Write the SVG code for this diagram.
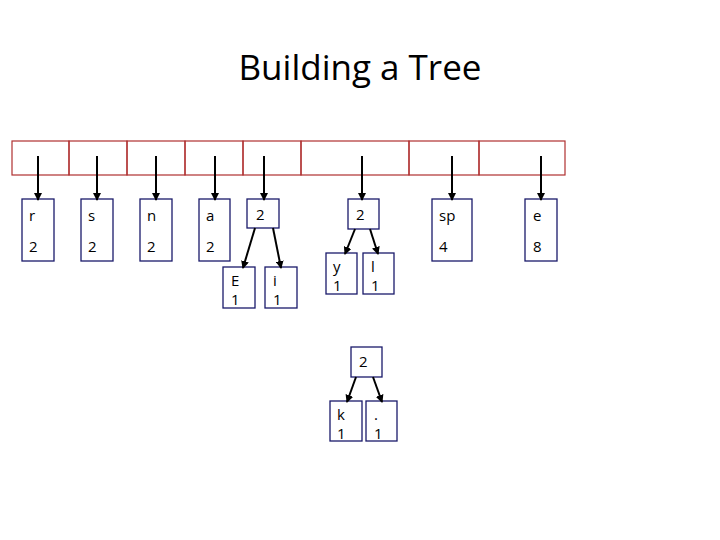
<svg xmlns="http://www.w3.org/2000/svg" width="720" height="540" viewBox="0 0 720 540">
<style>
.cell{fill:none;stroke:#b03030;stroke-width:1.2}
.box{fill:#fff;stroke:#1a1a6a;stroke-width:1.3}
.t{font-family:"Open Sans","Liberation Sans",sans-serif;font-size:15px;fill:#000}
.title{font-family:"Open Sans","Liberation Sans",sans-serif;font-size:35px;fill:#000;text-anchor:middle}
.c{stroke:#000;stroke-width:2;marker-end:url(#ah)}
</style>
<defs><marker id="ah" markerWidth="8" markerHeight="8" refX="7" refY="4" orient="auto" markerUnits="userSpaceOnUse"><path d="M0,0 L8,4 L0,8 z" fill="#000"/></marker></defs>
<rect width="720" height="540" fill="#fff"/>
<text class="title" x="360" y="80">Building a Tree</text>
<g id="array">
<rect class="cell" x="12" y="141" width="57" height="34"/>
<rect class="cell" x="69" y="141" width="58" height="34"/>
<rect class="cell" x="127" y="141" width="58" height="34"/>
<rect class="cell" x="185" y="141" width="58" height="34"/>
<rect class="cell" x="243" y="141" width="58" height="34"/>
<rect class="cell" x="301" y="141" width="108" height="34"/>
<rect class="cell" x="409" y="141" width="70" height="34"/>
<rect class="cell" x="479" y="141" width="86" height="34"/>
</g>
<g id="r"><rect class="box" x="22" y="199" width="32" height="62"/><text class="t" x="29" y="221">r</text><text class="t" x="29" y="252">2</text></g>
<g id="s"><rect class="box" x="81" y="199" width="32" height="62"/><text class="t" x="88" y="221">s</text><text class="t" x="88" y="252">2</text></g>
<g id="n"><rect class="box" x="140" y="199" width="32" height="62"/><text class="t" x="147" y="221">n</text><text class="t" x="147" y="252">2</text></g>
<g id="a"><rect class="box" x="199" y="199" width="31" height="62"/><text class="t" x="206" y="221">a</text><text class="t" x="206" y="252">2</text></g>
<g id="n2a"><rect class="box" x="247" y="199" width="32" height="29"/><text class="t" x="256" y="220">2</text></g>
<g id="E"><rect class="box" x="223" y="267" width="32" height="41"/><text class="t" x="231" y="286">E</text><text class="t" x="231" y="305">1</text></g>
<g id="i"><rect class="box" x="265" y="267" width="32" height="41"/><text class="t" x="273" y="286">i</text><text class="t" x="273" y="305">1</text></g>
<g id="n2b"><rect class="box" x="348" y="199" width="31" height="30"/><text class="t" x="356" y="220">2</text></g>
<g id="y"><rect class="box" x="326" y="253" width="31" height="41"/><text class="t" x="333" y="272">y</text><text class="t" x="333" y="291">1</text></g>
<g id="l"><rect class="box" x="363" y="253" width="31" height="41"/><text class="t" x="371" y="272">l</text><text class="t" x="371" y="291">1</text></g>
<g id="sp"><rect class="box" x="432" y="199" width="40" height="62"/><text class="t" x="439" y="221">sp</text><text class="t" x="439" y="252">4</text></g>
<g id="e"><rect class="box" x="525" y="199" width="32" height="62"/><text class="t" x="533" y="221">e</text><text class="t" x="533" y="252">8</text></g>
<g id="n2c"><rect class="box" x="351" y="347" width="31" height="30"/><text class="t" x="359" y="367">2</text></g>
<g id="k"><rect class="box" x="330" y="401" width="32" height="40"/><text class="t" x="337" y="420">k</text><text class="t" x="337" y="439">1</text></g>
<g id="dot"><rect class="box" x="366" y="401" width="31" height="40"/><text class="t" x="374" y="420">.</text><text class="t" x="374" y="439">1</text></g>
<g id="connectors">
<line class="c" x1="38" y1="156" x2="38" y2="200"/>
<line class="c" x1="97" y1="156" x2="97" y2="200"/>
<line class="c" x1="156" y1="156" x2="156" y2="200"/>
<line class="c" x1="215" y1="156" x2="215" y2="200"/>
<line class="c" x1="264" y1="156" x2="264" y2="200"/>
<line class="c" x1="362" y1="156" x2="362" y2="200"/>
<line class="c" x1="452" y1="156" x2="452" y2="200"/>
<line class="c" x1="541" y1="156" x2="541" y2="200"/>
<line class="c" x1="255" y1="228" x2="243" y2="268"/>
<line class="c" x1="273" y1="228" x2="281" y2="268"/>
<line class="c" x1="355" y1="229" x2="345" y2="254"/>
<line class="c" x1="370" y1="229" x2="378" y2="254"/>
<line class="c" x1="356" y1="377" x2="347" y2="402"/>
<line class="c" x1="373" y1="377" x2="382" y2="402"/>
</g>
</svg>
